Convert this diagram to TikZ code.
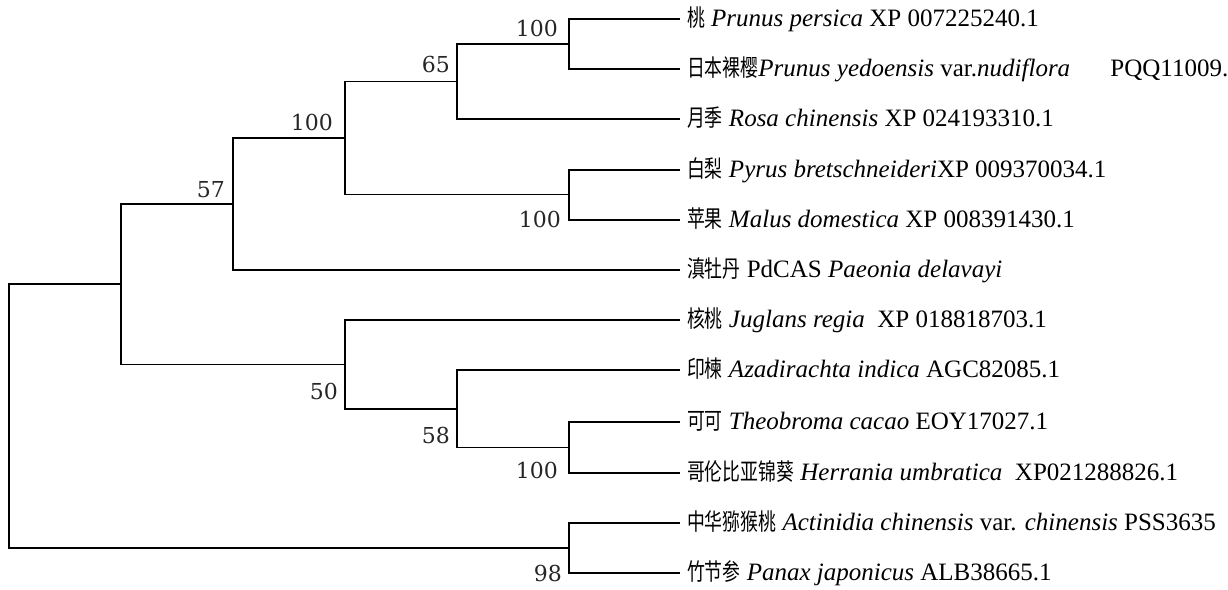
\documentclass[tikz,border=0pt]{standalone}
\usepackage{fontspec}
\setmainfont{Liberation Serif}
\newfontfamily\cjkraw{Noto Sans CJK SC}[FakeStretch=0.76]
\newcommand\cjk{\cjkraw\fontsize{23.5}{23.5}\selectfont}
\newfontfamily\bsfont{DejaVu Serif}
\begin{document}
\begin{tikzpicture}[x=1pt,y=-1pt,
  br/.style={line width=1.4pt, line cap=rect},
  leaf/.style={anchor=west, inner sep=0pt, outer sep=0pt, text height=16pt, text depth=1pt,
    font=\fontsize{25}{25}\selectfont, xshift=8pt},
  bs/.style={anchor=base east, inner sep=0pt, text=black!85,
    font=\bsfont\fontsize{22}{22}\selectfont}]
\useasboundingbox (0,0) rectangle (1228,589);
% leaf end points
\foreach \n/\y in {1/19,2/69,3/119,4/170,5/220,6/270,7/320,8/370,9/422,10/473,11/523,12/573}
  \coordinate (e\n) at (679,\y);
% leaves
\node[leaf] (l1) at (e1) {{\cjk 桃} \textit{Prunus persica} XP 007225240.1};
\node[leaf] (l2) at (e2) {{\cjk 日本裸樱}\textit{Prunus yedoensis} var.\textit{nudiflora}\hspace{34pt} PQQ11009.};
\node[leaf] (l3) at (e3) {{\cjk 月季} \textit{Rosa chinensis} XP 024193310.1};
\node[leaf] (l4) at (e4) {{\cjk 白梨} \textit{Pyrus bretschneideri}XP 009370034.1};
\node[leaf] (l5) at (e5) {{\cjk 苹果} \textit{Malus domestica} XP 008391430.1};
\node[leaf] (l6) at (e6) {{\cjk 滇牡丹} PdCAS \textit{Paeonia delavayi}};
\node[leaf] (l7) at (e7) {{\cjk 核桃} \textit{Juglans regia}\ \ XP 018818703.1};
\node[leaf] (l8) at (e8) {{\cjk 印楝} \textit{Azadirachta indica} AGC82085.1};
\node[leaf] (l9) at (e9) {{\cjk 可可} \textit{Theobroma cacao} EOY17027.1};
\node[leaf] (l10) at (e10) {{\cjk 哥伦比亚锦葵} \textit{Herrania umbratica}\ \ XP021288826.1};
\node[leaf] (l11) at (e11) {{\cjk 中华猕猴桃} \textit{Actinidia chinensis} var. \textit{chinensis} PSS3635};
\node[leaf] (l12) at (e12) {{\cjk 竹节参} \textit{Panax japonicus} ALB38665.1};
% internal nodes
\coordinate (A) at (569,44);
\coordinate (B) at (457,81.5);
\coordinate (C) at (569,194.5);
\coordinate (D) at (345,138);
\coordinate (E) at (233,204);
\coordinate (F) at (569,447.5);
\coordinate (G) at (457,409);
\coordinate (H) at (345,364.5);
\coordinate (I) at (121,284);
\coordinate (J) at (569,548);
\coordinate (R) at (9,416);
% branches
\draw[br] (A) |- (e1) (A) |- (e2);
\draw[br] (B) |- (A) (B) |- (e3);
\draw[br] (C) |- (e4) (C) |- (e5);
\draw[br] (D) |- (B) (D) |- (C);
\draw[br] (E) |- (D) (E) |- (e6);
\draw[br] (F) |- (e9) (F) |- (e10);
\draw[br] (G) |- (e8) (G) |- (F);
\draw[br] (H) |- (e7) (H) |- (G);
\draw[br] (I) |- (E) (I) |- (H);
\draw[br] (J) |- (e11) (J) |- (e12);
\draw[br] (R) |- (I) (R) |- (J);
% bootstrap values
\node[bs] (bA) at (558,36) {100};
\node[bs] (bB) at (450,72) {65};
\node[bs] (bD) at (333,130) {100};
\node[bs] (bE) at (225,197) {57};
\node[bs] (bC) at (561,227) {100};
\node[bs] (bH) at (338,399) {50};
\node[bs] (bG) at (450,443) {58};
\node[bs] (bF) at (558,478) {100};
\node[bs] (bJ) at (562,581) {98};
\end{tikzpicture}
\end{document}
